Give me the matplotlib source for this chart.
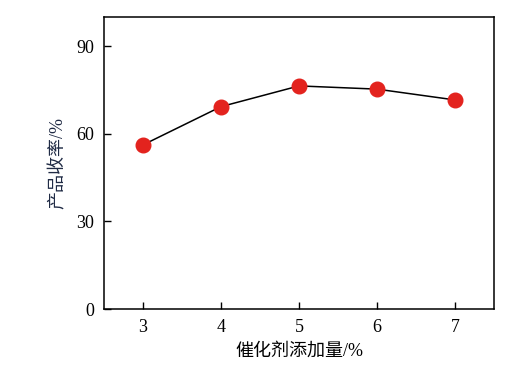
import matplotlib
matplotlib.use("Agg")
import matplotlib.pyplot as plt

# catalyst dosage (%) vs product yield (%)
dosage = [3, 4, 5, 6, 7]
yield_pct = [56.2, 69.3, 76.4, 75.3, 71.6]
yticks = [0, 30, 60, 90]

plt.rcParams['font.family'] = ['Liberation Serif', 'Noto Sans CJK SC']

fig = plt.figure(figsize=(5.15, 3.67), dpi=100)
ax = fig.add_axes([104 / 515, 1 - 309 / 367, 390 / 515, 292 / 367])

ax.plot(dosage, yield_pct, color='black', lw=1.1, zorder=2)
ax.plot(dosage, yield_pct, 'o', color='#e3231e', markersize=10.5, zorder=3)

ax.set_xlim(2.5, 7.5)
ax.set_ylim(0, 100)
ax.set_xticks(dosage)
ax.set_yticks(yticks)
ax.tick_params(direction='in', length=5, width=1, labelsize=13, pad=7)
for s in ax.spines.values():
    s.set_linewidth(1.1)

ax.set_xlabel('催化剂添加量/%', fontsize=13, labelpad=5)
ax.set_ylabel('产品收率/%', fontsize=13, labelpad=7, color='#1f2a44')

fig.savefig('out.png', dpi=100)
